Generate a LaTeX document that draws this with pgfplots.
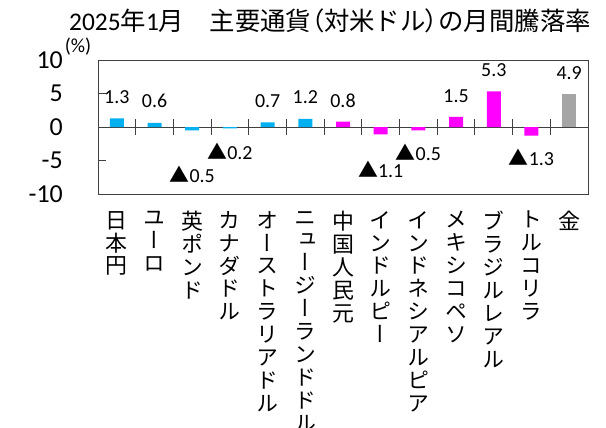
\documentclass[border=0pt]{standalone}
\usepackage{fontspec}
\usepackage{pgfplots}
\pgfplotsset{compat=1.18}
\setmainfont{Carlito}
\newfontfamily\cjk{Noto Sans CJK JP}
\newfontfamily\cjkp[RawFeature=+palt]{Noto Sans CJK JP}
\newfontfamily\cjkv[RawFeature=+vert]{Noto Sans CJK JP}
\definecolor{cblue}{HTML}{00B0F0}
\definecolor{cmag}{HTML}{FF00FF}
\definecolor{cgray}{HTML}{A5A5A5}
\definecolor{frame}{HTML}{404040}
\newcommand{\tri}{{\cjk ▲}}

\begin{document}
\begin{tikzpicture}[x=1bp,y=1bp]
\useasboundingbox (0,0) rectangle (606,427);
\node[font=\cjk\fontsize{25.5}{25.5}\selectfont, inner sep=0pt] at (330,406) {{\rmfamily 2025}年{\rmfamily 1}月　主要通貨{\cjkp （}対米ドル{\cjkp ）}の月間騰落率};
\node[font=\fontsize{20}{20}\selectfont, inner sep=0pt] at (78,380) {(\%)};
\begin{axis}[
  at={(98bp,233bp)}, anchor=south west, scale only axis,
  width=490bp, height=134bp,
  xmin=0.5, xmax=13.5, ymin=-10, ymax=10,
  axis line style={frame, line width=0.9bp},
  ytick={-10,-5,0,5,10}, yticklabels={-10,-5,0,5,10},
  tick align=inside, ytick pos=left, major tick length=8bp,
  y tick style={frame, line width=0.9bp},
  yticklabel style={font=\fontsize{26}{26}\selectfont, anchor=east, inner sep=0pt, xshift=-35bp},
  xtick={1,...,13},
  x tick style={draw=none},
  xticklabel style={font=\cjkv\fontsize{22}{23}\selectfont, anchor=north, align=center, inner sep=0pt, yshift=-17bp},
  xticklabels={
    {日\\本\\円},
    {ユ\\ー\\ロ},
    {英\\ポ\\ン\\ド},
    {カ\\ナ\\ダ\\ド\\ル},
    {オ\\ー\\ス\\ト\\ラ\\リ\\ア\\ド\\ル},
    {ニ\\ュ\\ー\\ジ\\ー\\ラ\\ン\\ド\\ド\\ル},
    {中\\国\\人\\民\\元},
    {イ\\ン\\ド\\ル\\ピ\\ー},
    {イ\\ン\\ド\\ネ\\シ\\ア\\ル\\ピ\\ア},
    {メ\\キ\\シ\\コ\\ペ\\ソ},
    {ブ\\ラ\\ジ\\ル\\レ\\ア\\ル},
    {ト\\ル\\コ\\リ\\ラ},
    {金}},
  clip=false,
]
% zero line and category separators
\draw[frame, line width=0.9bp] (axis cs:0.5,0) -- (axis cs:13.5,0);
\foreach \k in {1.5,2.5,...,12.5} {
  \edef\tmp{\noexpand\draw[frame, line width=0.9bp] (axis cs:\k,-1.15) -- (axis cs:\k,1.15);}\tmp
}
\addplot[ybar, bar width=14bp, bar shift=0pt, fill=cblue, draw=none] coordinates {
  (1,1.3) (2,0.6) (3,-0.5) (4,-0.2) (5,0.7) (6,1.2)};
\addplot[ybar, bar width=14bp, bar shift=0pt, fill=cmag, draw=none] coordinates {
  (7,0.8) (8,-1.1) (9,-0.5) (10,1.5) (11,5.3) (12,-1.3)};
\addplot[ybar, bar width=14bp, bar shift=0pt, fill=cgray, draw=none] coordinates {
  (13,4.9)};
% data labels
\addplot[draw=none, mark=none, nodes near coords, point meta=explicit symbolic,
  every node near coord/.append style={anchor=center, font=\fontsize{20}{20}\selectfont, inner sep=0pt}]
  coordinates {
  (1,4.4) [1.3] (2,3.9) [0.6] (3,-7.1) [\tri0.5] (4,-3.7) [\tri0.2]
  (5,3.9) [0.7] (6,4.4) [1.2] (7,3.9) [0.8] (8,-6.3) [\tri1.1]
  (9,-3.8) [\tri0.5] (10,4.6) [1.5] (11,8.5) [5.3] (12,-4.6) [\tri1.3]
  (13,8.1) [4.9]};
\end{axis}
\end{tikzpicture}
\end{document}
